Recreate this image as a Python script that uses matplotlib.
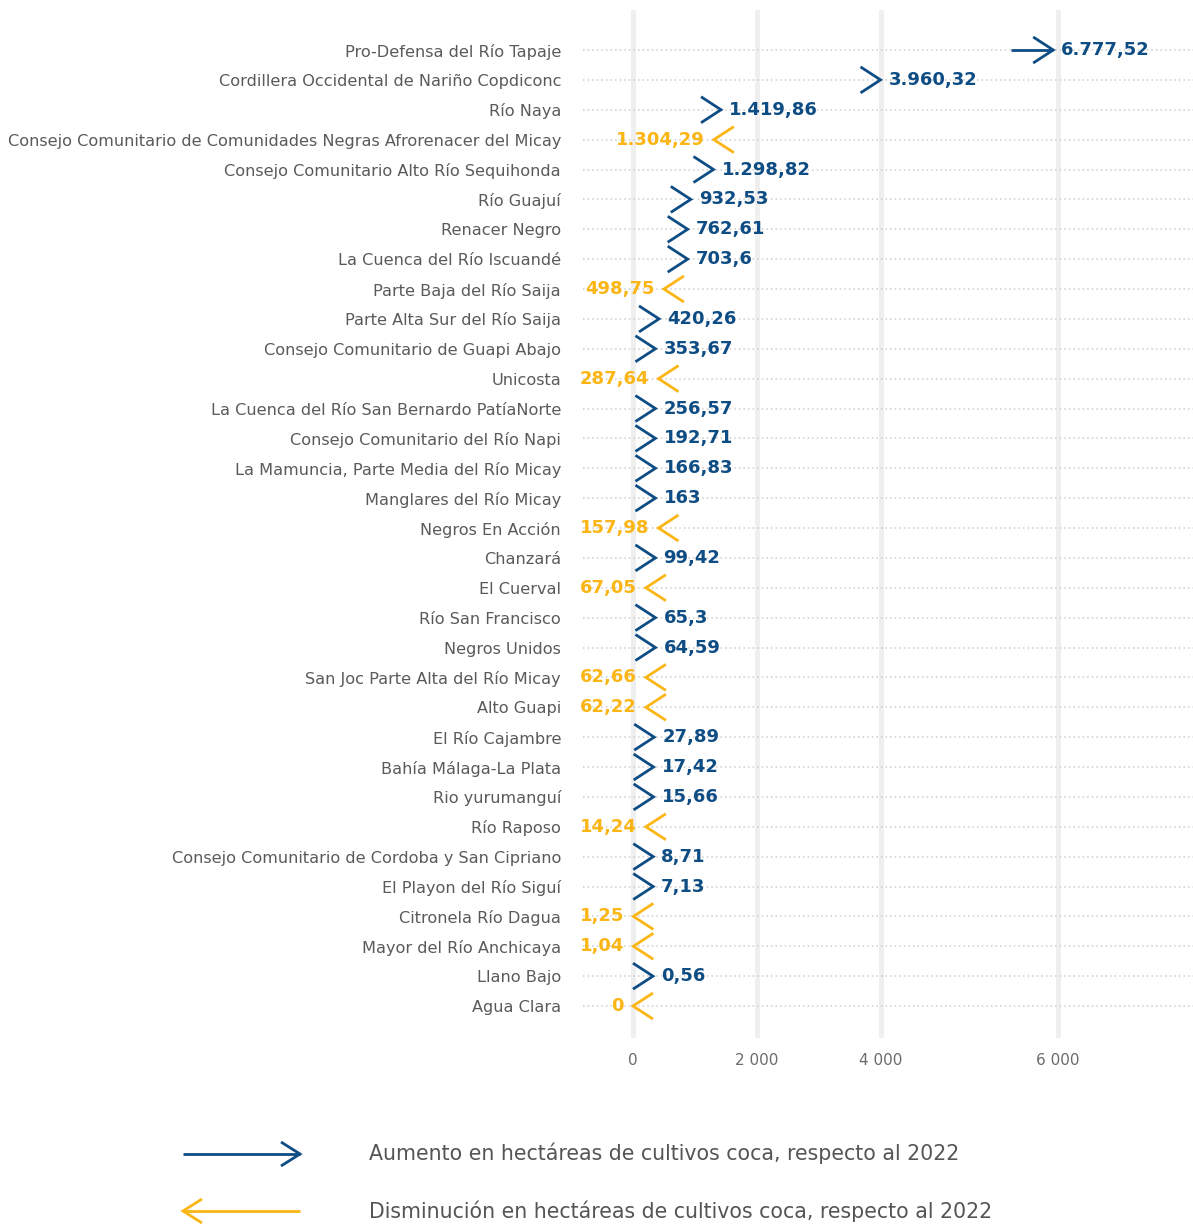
import numpy as np
import matplotlib.pyplot as plt

plt.rcParams['font.family'] = ['DejaVu Sans']

# ---- data: hectares of coca per community council (2023 label, 2022 estimated start)
names = [
    "Pro-Defensa del Río Tapaje",
    "Cordillera Occidental de Nariño Copdiconc",
    "Río Naya",
    "Consejo Comunitario de Comunidades Negras Afrorenacer del Micay",
    "Consejo Comunitario Alto Río Sequihonda",
    "Río Guajuí",
    "Renacer Negro",
    "La Cuenca del Río Iscuandé",
    "Parte Baja del Río Saija",
    "Parte Alta Sur del Río Saija",
    "Consejo Comunitario de Guapi Abajo",
    "Unicosta",
    "La Cuenca del Río San Bernardo PatíaNorte",
    "Consejo Comunitario del Río Napi",
    "La Mamuncia, Parte Media del Río Micay",
    "Manglares del Río Micay",
    "Negros En Acción",
    "Chanzará",
    "El Cuerval",
    "Río San Francisco",
    "Negros Unidos",
    "San Joc Parte Alta del Río Micay",
    "Alto Guapi",
    "El Río Cajambre",
    "Bahía Málaga-La Plata",
    "Rio yurumanguí",
    "Río Raposo",
    "Consejo Comunitario de Cordoba y San Cipriano",
    "El Playon del Río Siguí",
    "Citronela Río Dagua",
    "Mayor del Río Anchicaya",
    "Llano Bajo",
    "Agua Clara",
]
v2023 = [6777.52, 3960.32, 1419.86, 1304.29, 1298.82, 932.53, 762.61, 703.6,
         498.75, 420.26, 353.67, 287.64, 256.57, 192.71, 166.83, 163, 157.98,
         99.42, 67.05, 65.3, 64.59, 62.66, 62.22, 27.89, 17.42, 15.66, 14.24,
         8.71, 7.13, 1.25, 1.04, 0.56, 0]
v2022 = [6100, 3670, 1095, 1670, 960, 570, 560, 560,
         785, 60, 40, 560, 40, 40, 40, 40, 430,
         40, 320, 40, 40, 300, 300, 20, 10, 10, 250,
         5, 4, 340, 340, 0, 340]

tick_vals = [0, 2000, 4000, 6850]
tick_labels = ["0", "2 000", "4 000", "6 000"]

legend_up = "Aumento en hectáreas de cultivos coca, respecto al 2022"
legend_down = "Disminución en hectáreas de cultivos coca, respecto al 2022"

blue = '#0e4c84'
yellow = '#fbb514'
label_col = '#5a5a5a'


def fmt(v):
    s = f"{v:,.2f}".rstrip('0').rstrip('.')
    return s.replace(',', 'X').replace('.', ',').replace('X', '.')


def chevron(a, tip, y, hl, hh, color, lw):
    # hl > 0 points right, hl < 0 points left
    a.plot([tip - hl, tip, tip - hl], [y - hh, y, y + hh], color=color, lw=lw,
           solid_joinstyle='miter', solid_capstyle='butt', zorder=4, clip_on=False)


W, H = 1193, 1224
fig = plt.figure(figsize=(W / 100, H / 100), dpi=100)
ax = fig.add_axes([583 / W, 1 - 1038 / H, (W - 583) / W, 1028 / H])

n = len(names)
rows = np.arange(n)
ax.set_xlim(-806, 9032)
ax.set_ylim(33.07, -1.339)

# units per pixel
ux = (ax.get_xlim()[1] - ax.get_xlim()[0]) / (W - 583)
uy = (ax.get_ylim()[0] - ax.get_ylim()[1]) / 1028
head_l = 20 * ux
head_h = 13 * uy
lw = 2.0

for s in ax.spines.values():
    s.set_visible(False)
ax.set_xticks(tick_vals, tick_labels)
ax.set_yticks(rows, names)
ax.tick_params(axis='x', length=0, pad=11, labelsize=11, labelcolor='#6b6b6b')
ax.tick_params(axis='y', length=0, pad=15.8, labelsize=11.6, labelcolor=label_col)
ax.grid(axis='x', color='#efefef', lw=3.6, zorder=0)
ax.set_axisbelow(True)
ax.hlines(rows, ax.get_xlim()[0], ax.get_xlim()[1], colors='#cdcdcd',
          linestyles=(0, (1, 2)), lw=1.1, zorder=1)

renderer = fig.canvas.get_renderer()
xmin = ax.get_xlim()[0] - 3 * ux

for i in range(n):
    cur, prev = v2023[i], v2022[i]
    y = rows[i]
    if cur >= prev:
        tip = max(cur, prev + head_l)
        if tip - prev > head_l * 1.3:
            ax.plot([prev, tip], [y, y], color=blue, lw=lw, zorder=4,
                    solid_capstyle='butt')
        chevron(ax, tip, y, head_l, head_h, blue, lw)
        ax.text(tip + 8 * ux, y, fmt(cur), color=blue, fontsize=13,
                fontweight='bold', ha='left', va='center')
    else:
        t = ax.text(0, y, fmt(cur), color=yellow, fontsize=13,
                    fontweight='bold', ha='right', va='center')
        w = t.get_window_extent(renderer).width * ux
        tip = max(cur, xmin + w + 9 * ux)
        if prev - tip > head_l * 1.3:
            ax.plot([tip, prev], [y, y], color=yellow, lw=lw, zorder=4,
                    solid_capstyle='butt')
        chevron(ax, tip, y, -head_l, head_h, yellow, lw)
        t.set_x(tip - 9 * ux)

# ---- legend (pixel coordinates)
lax = fig.add_axes([0, 0, 1, 1])
lax.set_xlim(0, W)
lax.set_ylim(H, 0)
lax.axis('off')

lax.plot([183, 300], [1154, 1154], color=blue, lw=lw, solid_capstyle='butt')
chevron(lax, 300, 1154, 19, 12, blue, lw)
lax.text(369, 1153, legend_up, fontsize=14.8, color='#555555', va='center')

lax.plot([183, 300], [1211, 1211], color=yellow, lw=lw, solid_capstyle='butt')
chevron(lax, 183, 1211, -19, 12, yellow, lw)
lax.text(369, 1211, legend_down, fontsize=14.8, color='#555555', va='center')

fig.savefig('out.png', dpi=100)
